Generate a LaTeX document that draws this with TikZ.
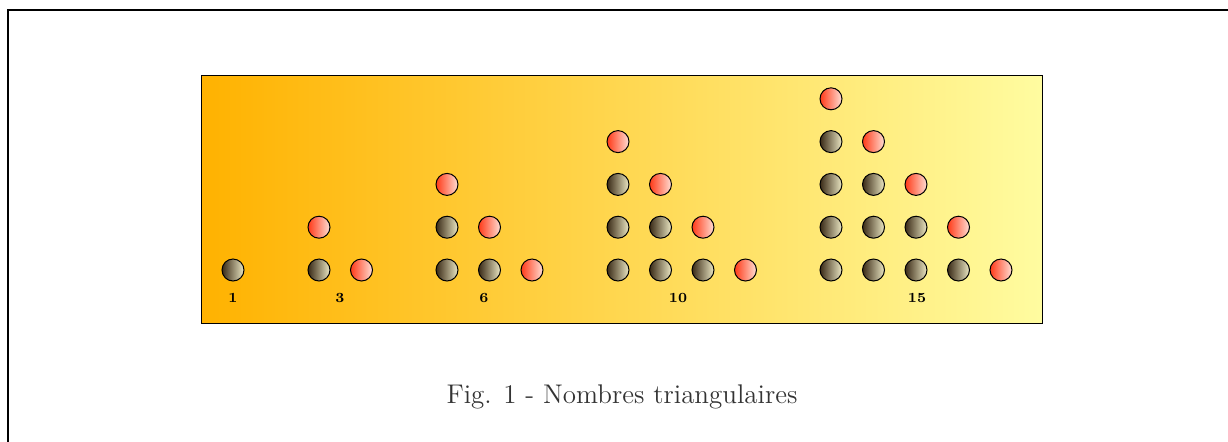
\documentclass[tikz,border=0pt]{standalone}
\usepackage{fontspec}
\begin{document}
\begin{tikzpicture}[x=0.5pt,y=-0.5pt,
  panel/.style={draw=black,line width=0.4pt,left color=panelL,right color=panelR},
  ball/.style={circle,draw=black,line width=0.5pt,minimum size=11pt,inner sep=0pt},
  darkball/.style={ball,left color=darkL,right color=darkR},
  redball/.style={ball,left color=redL,right color=redR},
  count/.style={font=\fontsize{7}{8}\selectfont\bfseries},
  caption/.style={font=\fontsize{13.5}{15}\selectfont,text=black!80}]
\definecolor{panelL}{RGB}{255,178,0}
\definecolor{panelR}{RGB}{255,252,160}
\definecolor{darkL}{RGB}{58,42,22}
\definecolor{darkR}{RGB}{236,232,196}
\definecolor{redL}{RGB}{255,58,24}
\definecolor{redR}{RGB}{255,222,212}
\useasboundingbox (0,0) rectangle (1228,441);
% outer frame
\draw[line width=1pt] (8,450) -- (8,9.5) -- (1240,9.5);
% coloured panel
\node[panel,rectangle,minimum width=420.5pt,minimum height=124pt,inner sep=0pt] (panel) at (621.5,199) {};
% the single ball of the first number
\node[darkball] (b-1-1-1) at (233,270) {};
% triangles: foreach group  <index>/<first column x>/<size>
\foreach \g/\x/\n in {2/319/2,3/447/3,4/618/4,5/831/5}{
  \foreach \c in {1,...,\n}{
    \pgfmathtruncatemacro{\top}{\n-\c+1}
    \foreach \r in {1,...,\top}{
      \ifnum\r=\top
        \node[redball] (b-\g-\c-\r) at ({\x+(\c-1)*42.5},{270-(\r-1)*42.8}) {};
      \else
        \node[darkball] (b-\g-\c-\r) at ({\x+(\c-1)*42.5},{270-(\r-1)*42.8}) {};
      \fi
    }
  }
}
% counts
\node[count] (n1) at (233,298) {1};
\node[count] (n3) at (340,298) {3};
\node[count] (n6) at (484,298) {6};
\node[count] (n10) at (678,298) {10};
\node[count] (n15) at (917,298) {15};
% caption
\node[caption] (cap) at (622,397) {Fig. 1 - Nombres triangulaires};
\end{tikzpicture}
\end{document}
